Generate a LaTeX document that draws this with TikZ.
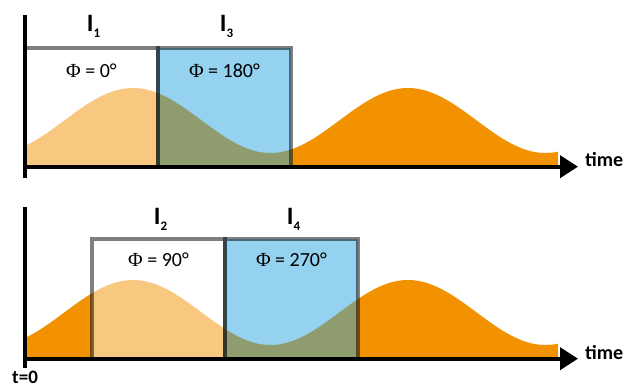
\documentclass[tikz,border=0pt]{standalone}
\usepackage{fontspec}
\setmainfont{Carlito}
\newfontfamily\phifont{Liberation Serif}
\usetikzlibrary{arrows.meta}
\definecolor{waveorange}{HTML}{F39200}
\definecolor{boxblue}{HTML}{2CA6E0}
\begin{document}
\begin{tikzpicture}[x=1pt,y=-1pt,
  axisline/.style={line width=4pt},
  timeaxis/.style={line width=4pt,-{Triangle[length=18pt,width=22pt]}},
  wavefill/.style={fill=waveorange},
  whitebox/.style={fill=white,fill opacity=0.5,draw=black,draw opacity=0.5,line width=4pt},
  bluebox/.style={fill=boxblue,fill opacity=0.5,draw=black,draw opacity=0.5,line width=4pt},
  phaselabel/.style={anchor=base,inner sep=0pt,font=\fontsize{20}{20}\selectfont},
  intlabel/.style={anchor=base,inner sep=0pt,font=\fontsize{25}{25}\selectfont\bfseries},
  timelabel/.style={anchor=base west,inner sep=0pt,font=\fontsize{20}{20}\selectfont\bfseries}]
\useasboundingbox (0,0) rectangle (633,390);
\newcommand{\sublab}[1]{\raisebox{-6pt}{\fontsize{13}{13}\selectfont\bfseries #1}}

% ---------- top panel ----------
\coordinate (o1) at (25,166.7);
\coordinate (e1) at (578,166.7);
\coordinate (v1t) at (25,15);
\coordinate (v1b) at (25,178);
\fill[wavefill] (25,166.7) -- plot[domain=25:558,samples=150] (\x,{120.5-32.5*cos((\x-133)*1.309091)}) -- (558,166.7) -- cycle;
\path[whitebox] (25,47.7) rectangle (158,166.7);
\path[bluebox] (158,47.7) rectangle (291,166.7);
\node[phaselabel] (p1) at (91.5,77.5) {{\phifont Φ} = 0°};
\node[phaselabel] (p3) at (224.5,77.5) {{\phifont Φ} = 180°};
\node[intlabel] (i1) at (93.5,32) {I\sublab{1}};
\node[intlabel] (i3) at (226.5,32) {I\sublab{3}};
\node[timelabel] (t1) at (585,167) {time};
\draw[axisline] (v1t) -- (v1b);
\draw[timeaxis] (o1) -- (e1);

% ---------- bottom panel ----------
\coordinate (o2) at (25,358.7);
\coordinate (e2) at (578,358.7);
\coordinate (v2t) at (25,207);
\coordinate (v2b) at (25,368);
\fill[wavefill] (25,358.7) -- plot[domain=25:558,samples=150] (\x,{312.5-32.5*cos((\x-133)*1.309091)}) -- (558,358.7) -- cycle;
\path[whitebox] (92,239.5) rectangle (225,358.7);
\path[bluebox] (225,239.5) rectangle (358,358.7);
\node[phaselabel] (p2) at (158.5,267) {{\phifont Φ} = 90°};
\node[phaselabel] (p4) at (291.5,267) {{\phifont Φ} = 270°};
\node[intlabel] (i2) at (160.5,224.3) {I\sublab{2}};
\node[intlabel] (i4) at (293.5,224.3) {I\sublab{4}};
\node[timelabel] (t2) at (585,359.5) {time};
\node[timelabel,font=\fontsize{19}{19}\selectfont\bfseries] (t0) at (12,384) {t=0};
\draw[axisline] (v2t) -- (v2b);
\draw[timeaxis] (o2) -- (e2);
\end{tikzpicture}
\end{document}
